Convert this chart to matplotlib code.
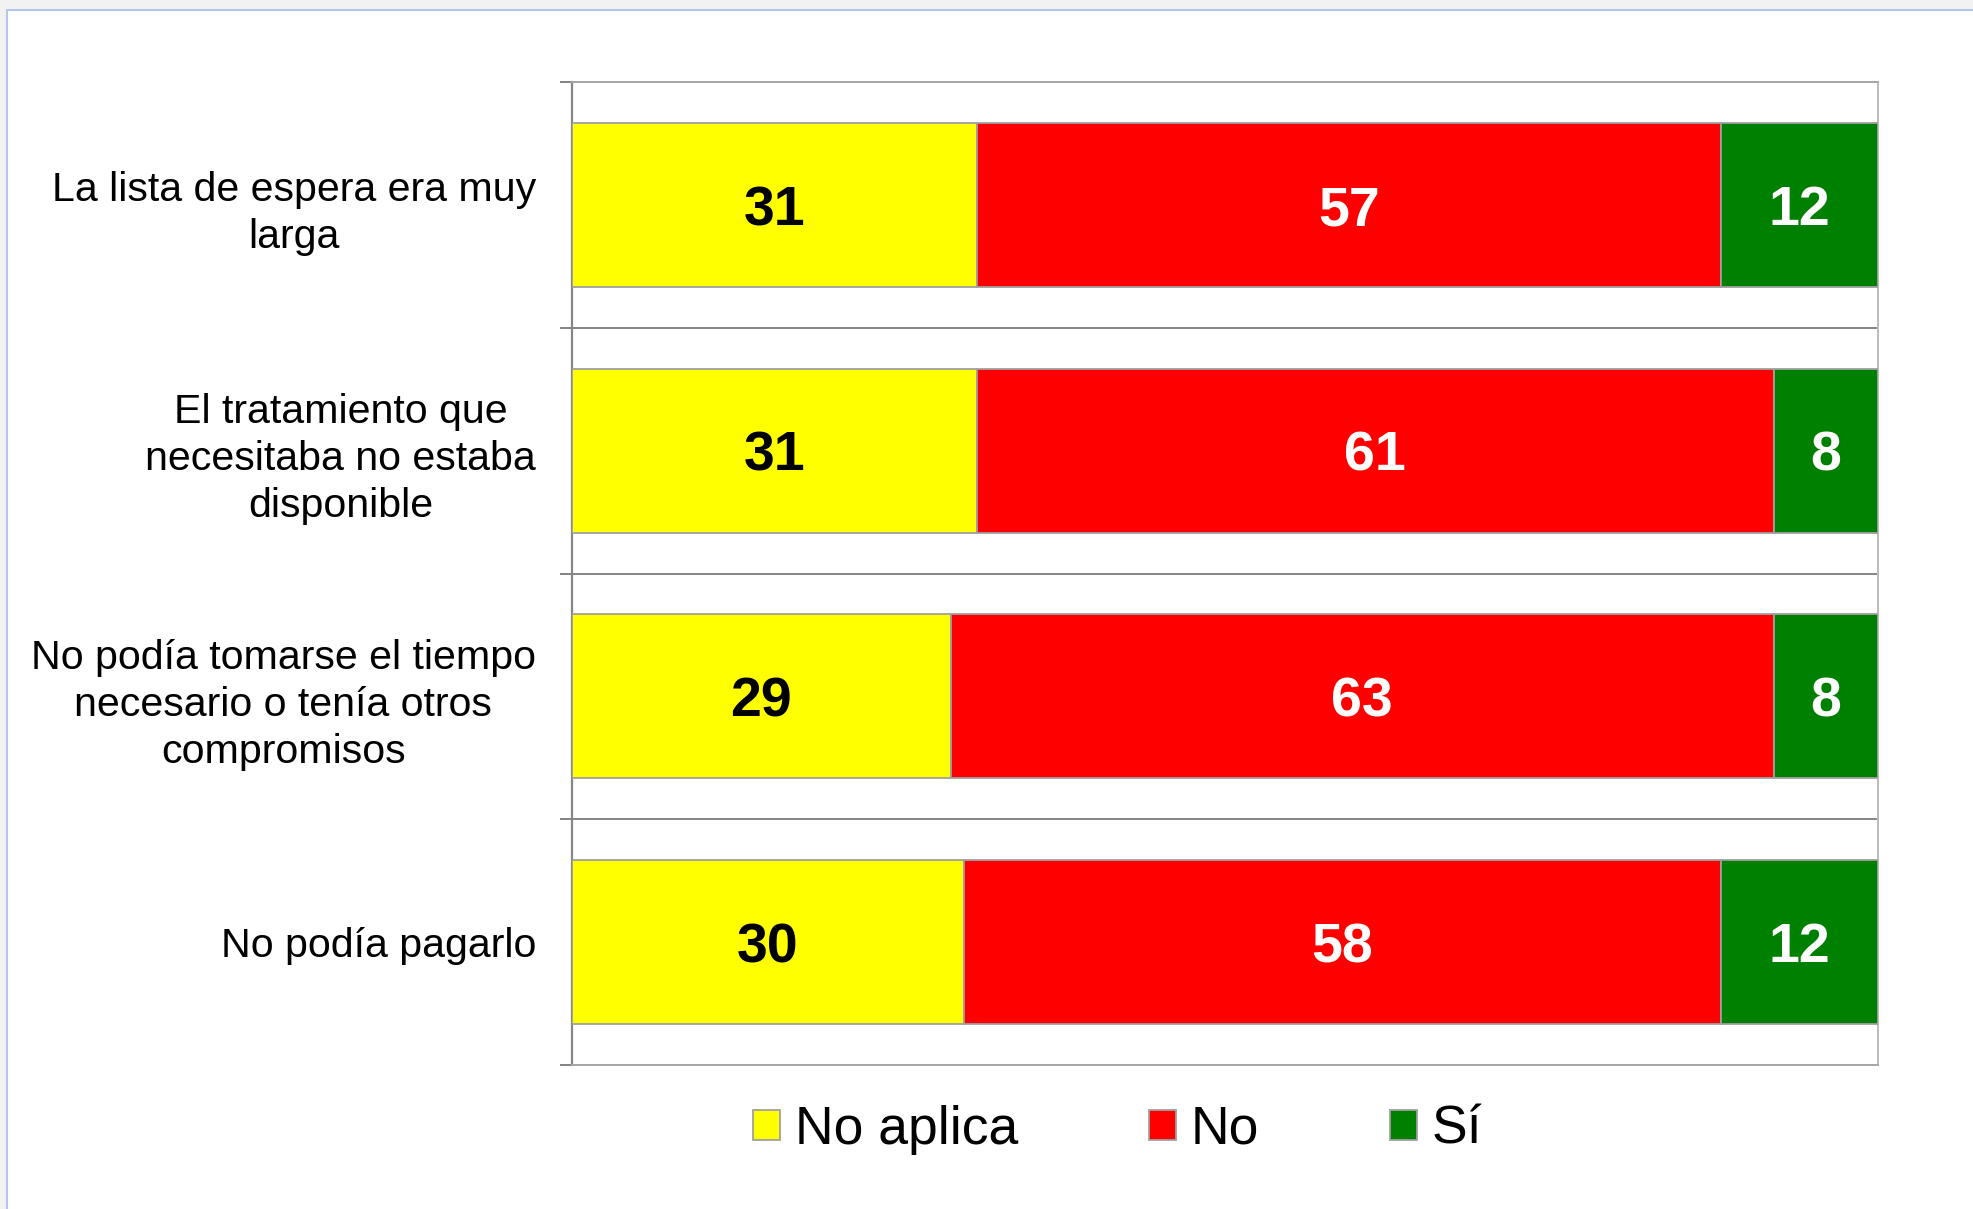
import matplotlib
matplotlib.use("Agg")
import matplotlib.pyplot as plt
from matplotlib.patches import Patch, Rectangle
from matplotlib.transforms import ScaledTranslation
import numpy as np

plt.rcParams['font.family'] = ['Liberation Sans', 'DejaVu Sans']

categories = ["La lista de espera era muy\nlarga",
              "El tratamiento que\nnecesitaba no estaba\ndisponible",
              "No podía tomarse el tiempo\nnecesario o tenía otros\ncompromisos",
              "No podía pagarlo"]
series_names = ["No aplica", "No", "Sí"]
no_aplica = [31, 31, 29, 30]
no = [57, 61, 63, 58]
si = [12, 8, 8, 12]

colors = ["#FFFF00", "#FF0000", "#008000"]
text_colors = ["black", "white", "white"]

W, H = 1973, 1209
fig = plt.figure(figsize=(W / 100, H / 100), dpi=100)
fig.patch.set_facecolor("#f2f2f2")
fig.patches.append(Rectangle((7 / W, -0.01), 1.0, 1 - 10 / H + 0.01,
                             transform=fig.transFigure, facecolor="white",
                             edgecolor="#b4c6f0", linewidth=1.5, zorder=-10))

ax = fig.add_axes([572 / W, 1 - 1065 / H, (1878 - 572) / W, (1065 - 82) / H])
ax.set_zorder(5)
ax.set_facecolor("white")

y = np.arange(len(categories))
left = np.zeros(len(categories))
for vals, col, tcol, name in zip([no_aplica, no, si], colors, text_colors, series_names):
    bars = ax.barh(y, vals, left=left, height=0.667, color=col,
                   edgecolor="#a0a0a0", linewidth=1.3, label=name, zorder=3)
    for b, v in zip(bars, vals):
        ax.annotate(f"{v}", (b.get_x() + b.get_width() / 2, b.get_y() + b.get_height() / 2),
                    xytext=(0, -14.5), textcoords="offset points",
                    ha="center", va="baseline", color=tcol,
                    fontsize=40, fontweight="bold", zorder=4)
    left = left + np.array(vals)

ax.set_xlim(0, 100)
ax.set_ylim(len(categories) - 0.5, -0.5)
ax.set_xticks([])
ax.set_yticks(y)
labels = ax.set_yticklabels(categories, fontsize=29.6, ha="right", multialignment="center",
                            linespacing=1.3)
for lab, txt in zip(labels, categories):
    if "\n" in txt:
        lab.set_transform(lab.get_transform() + ScaledTranslation(0, 4 / 72, fig.dpi_scale_trans))
ax.tick_params(axis="y", which="major", length=0, pad=26)
ax.set_yticks(np.arange(-0.5, len(categories), 1.0), minor=True)
ax.tick_params(axis="y", which="minor", length=8.6, width=1.44, color="#868686", direction="out")
ax.grid(axis="y", which="minor", color="#888888", linewidth=1.44, zorder=1)
ax.grid(axis="y", which="major", visible=False)

ax.spines["left"].set_color("#868686")
ax.spines["left"].set_linewidth(1.6)
for s in ["top", "bottom"]:
    ax.spines[s].set_color("#a6a6a6")
    ax.spines[s].set_linewidth(1.44)
ax.spines["right"].set_color("#bdbdbd")
ax.spines["right"].set_linewidth(1.44)

handles = [Patch(facecolor=c, edgecolor="#a0a0a0", linewidth=1.3) for c in colors]
fig.legend(handles, series_names, loc="center", bbox_to_anchor=(1118 / W, 79 / H),
           ncol=3, frameon=False, fontsize=38.5, handlelength=0.5, handleheight=0.5,
           handletextpad=0.28, columnspacing=2.45, borderpad=0)

fig.savefig("out.png", dpi=100, facecolor=fig.get_facecolor())
